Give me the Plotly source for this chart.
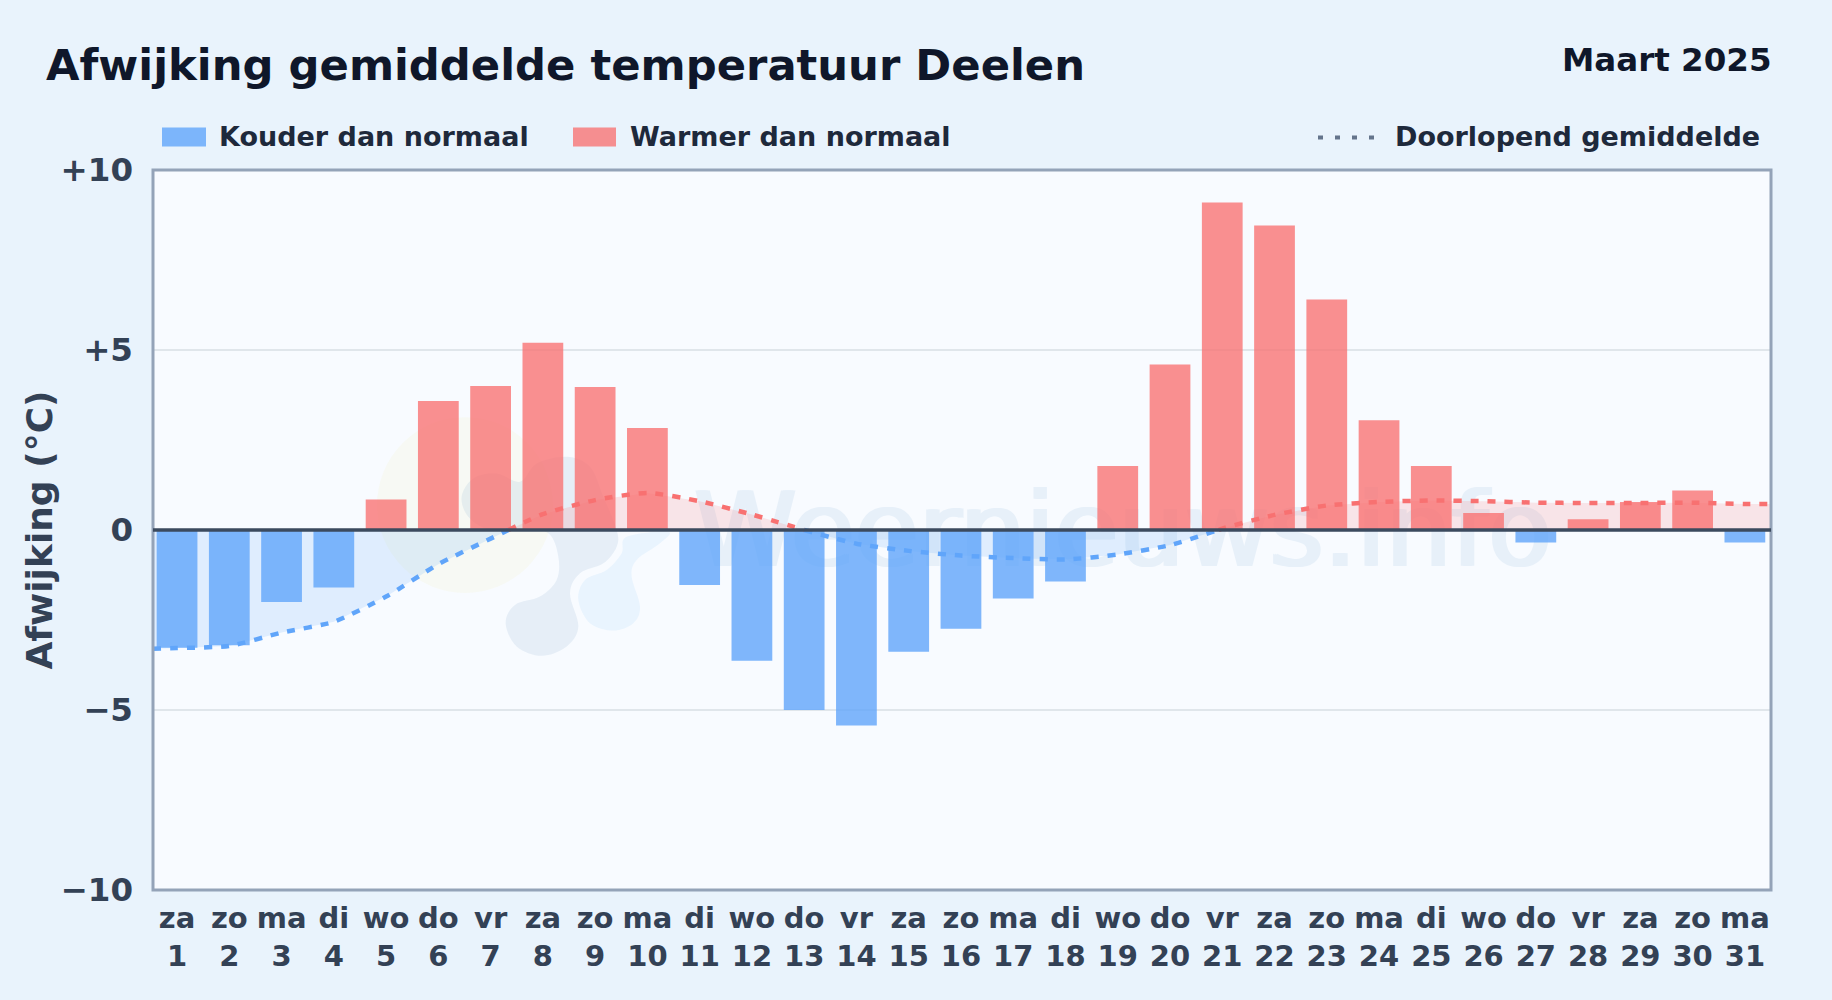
import plotly.graph_objects as go

FONT = "DejaVu Sans"

days = list(range(1, 32))
weekdays = ["za","zo","ma","di","wo","do","vr","za","zo","ma","di","wo","do","vr","za","zo",
            "ma","di","wo","do","vr","za","zo","ma","di","wo","do","vr","za","zo","ma"]
cold_values = [-3.27,-3.2,-2.0,-1.6,None,None,None,None,None,None,-1.53,-3.63,-5.0,-5.43,-3.38,-2.74,
               -1.9,-1.43,None,None,None,None,None,None,None,None,-0.35,None,None,None,-0.35]
warm_values = [None,None,None,None,0.85,3.58,4.0,5.2,3.97,2.83,None,None,None,None,None,None,
               None,None,1.78,4.6,9.1,8.46,6.4,3.05,1.78,0.47,None,0.3,0.78,1.1,None]

avg_x = [0.54,1,2,3,4,5,6,7,7.34,8,9,10,11,12,13,14,15,16,17,18,19,20,20.93,21,22,23,24,25,26,27,28,29,30,31,31.5]
avg_cold = [-3.3,-3.28,-3.22,-2.85,-2.55,-1.85,-0.95,-0.24,0,None,None,None,None,None,0,-0.38,-0.58,-0.71,
            -0.78,-0.82,-0.68,-0.42,0,None,None,None,None,None,None,None,None,None,None,None,None]
avg_warm = [None,None,None,None,None,None,None,None,0,0.44,0.83,1.03,0.8,0.43,0,None,None,None,
            None,None,None,None,0,0.04,0.42,0.68,0.78,0.82,0.8,0.76,0.75,0.75,0.76,0.72,0.72]

y_ticks = [10, 5, 0, -5, -10]
y_labels = ["+10", "+5", "0", "\u22125", "\u221210"]
x_labels = [f"{w}<br>{d}" for w, d in zip(weekdays, days)]

BLUE, RED = "#60A5FA", "#F87171"
L, R, T, B = 153, 1771, 169.5, 890.5
W_, H_ = R - L, B - T
def px(x): return (x - L) / W_
def py(y): return (B - y) / H_

fig = go.Figure()
fig.add_trace(go.Scatter(x=[19.1], y=[-0.28], mode="text", text=["Weernieuws.info"], showlegend=False,
                         textfont=dict(family=FONT, size=104, color="#2A7BC0",
                                       shadow="2px 0 0 #2A7BC0, -2px 0 0 #2A7BC0"),
                         opacity=0.08, hoverinfo="skip", zorder=-1))
fig.add_trace(go.Scatter(x=avg_x, y=avg_cold, mode="none", fill="tozeroy", fillcolor="rgba(96,165,250,0.16)",
                         showlegend=False, hoverinfo="skip", zorder=0))
fig.add_trace(go.Scatter(x=avg_x, y=avg_warm, mode="none", fill="tozeroy", fillcolor="rgba(248,113,113,0.16)",
                         showlegend=False, hoverinfo="skip", zorder=0))
fig.add_trace(go.Bar(x=days, y=cold_values, name="Kouder dan normaal", width=0.78,
                     marker=dict(color="rgba(96,165,250,0.8)", line_width=0), zorder=1))
fig.add_trace(go.Bar(x=days, y=warm_values, name="Warmer dan normaal", width=0.78,
                     marker=dict(color="rgba(248,113,113,0.78)", line_width=0), zorder=1))
dot = dict(width=4.5, dash="8px,9px", shape="spline", smoothing=0.6)
fig.add_trace(go.Scatter(x=avg_x, y=avg_cold, mode="lines", name="Doorlopend gemiddelde",
                         line=dict(color=BLUE, **dot), zorder=2))
fig.add_trace(go.Scatter(x=avg_x, y=avg_warm, mode="lines", name="Doorlopend gemiddelde",
                         line=dict(color=RED, **dot), zorder=2, showlegend=False))

shapes = []
def blob(cx, cy, rx, ry, color):
    shapes.append(dict(type="circle", xref="paper", yref="paper", layer="below",
                       x0=px(cx - rx), x1=px(cx + rx), y0=py(cy + ry), y1=py(cy - ry),
                       fillcolor=color, line_width=0))
def smooth_blob(points, color):
    # closed Catmull-Rom outline, points given as offsets in a 3x crop at (340,400)
    pts = [(340 + a / 3, 400 + b / 3) for a, b in points]
    n = len(pts)
    d = f"M{px(pts[0][0])},{py(pts[0][1])}"
    for i in range(n):
        p0, p1, p2, p3 = pts[i - 1], pts[i], pts[(i + 1) % n], pts[(i + 2) % n]
        c1 = (p1[0] + (p2[0] - p0[0]) / 6, p1[1] + (p2[1] - p0[1]) / 6)
        c2 = (p2[0] - (p3[0] - p1[0]) / 6, p2[1] - (p3[1] - p1[1]) / 6)
        d += f" C{px(c1[0])},{py(c1[1])} {px(c2[0])},{py(c2[1])} {px(p2[0])},{py(p2[1])}"
    shapes.append(dict(type="path", xref="paper", yref="paper", layer="below", path=d + " Z",
                       fillcolor=color, line_width=0))

# watermark logo
blob(465, 505, 88, 88, "rgba(240,235,130,0.09)")
smooth_blob([(605,768),(530,740),(497,670),(525,615),(600,590),(650,540),(655,470),(625,400),(540,385),
             (450,390),(385,350),(365,290),(400,235),(470,220),(540,245),(590,190),(680,170),(750,200),
             (790,290),(830,390),(830,440),(790,490),(720,520),(690,580),(715,680),(680,740)],
            "rgba(140,180,205,0.17)")
smooth_blob([(820,692),(750,670),(715,600),(735,540),(800,510),(845,460),(860,410),(985,395),
             (960,430),(890,480),(875,530),(900,620),(880,670)], "rgba(120,190,250,0.11)")

# plot frame
shapes.append(dict(type="rect", xref="paper", yref="paper", x0=0, x1=1, y0=0, y1=1, layer="above",
                   line=dict(color="#94A3B8", width=3), fillcolor="rgba(0,0,0,0)"))
# zero line
shapes.append(dict(type="line", xref="paper", yref="y", x0=0, x1=1, y0=0, y1=0,
                   layer="above", line=dict(color="#3B4A5E", width=3.5)))
# legend swatches
shapes.append(dict(type="rect", xref="paper", yref="paper", x0=px(162), x1=px(206), y0=py(146), y1=py(127),
                   fillcolor="rgba(96,165,250,0.8)", line_width=0))
shapes.append(dict(type="rect", xref="paper", yref="paper", x0=px(573), x1=px(616), y0=py(146), y1=py(127),
                   fillcolor="rgba(248,113,113,0.78)", line_width=0))
shapes.append(dict(type="line", xref="paper", yref="paper", x0=px(1318), x1=px(1376), y0=py(137), y1=py(137),
                   line=dict(color="#64748B", width=4, dash="5px,12px")))

def label(text, x, y, anchor, size, color):
    return dict(text=text, xref="paper", yref="paper", x=px(x), y=py(y), xanchor=anchor, yanchor="middle",
                showarrow=False, align=anchor, font=dict(family=FONT, size=size, color=color, weight="bold"))

annotations = [
    label("Maart 2025", 1774, 59, "right", 32.5, "#0F172A"),
    label("Kouder dan normaal", 217, 136, "left", 27, "#1E293B"),
    label("Warmer dan normaal", 628, 136, "left", 27, "#1E293B"),
    label("Doorlopend gemiddelde", 1393, 136, "left", 27, "#1E293B"),
    dict(text="Afwijking (°C)", xref="paper", yref="paper", x=px(38.5), y=py(530), xanchor="center",
         yanchor="middle", textangle=-90, showarrow=False,
         font=dict(family=FONT, size=36, color="#334155", weight="bold")),
]

fig.update_layout(
    width=1832, height=1000,
    margin=dict(l=L, r=1832 - R, t=T, b=1000 - B, pad=0),
    paper_bgcolor="#E9F3FC", plot_bgcolor="#F8FBFF",
    barmode="overlay", showlegend=False,
    title=dict(text="Afwijking gemiddelde temperatuur Deelen", xref="container", yref="container",
               x=46 / 1832, xanchor="left", y=1 - 65 / 1000, yanchor="middle",
               font=dict(family=FONT, size=43.3, color="#0F172A", weight="bold")),
    xaxis=dict(range=[0.54, 31.5], tickmode="array", tickvals=days, ticktext=x_labels, showgrid=False,
               zeroline=False, ticks="", ticklabelstandoff=8,
               tickfont=dict(family=FONT, size=29, color="#334155", weight="bold")),
    yaxis=dict(range=[-10, 10], tickmode="array", tickvals=y_ticks, ticktext=y_labels, showgrid=True,
               gridcolor="#E0E6EB", gridwidth=2, zeroline=False, ticks="", ticklabelstandoff=19,
               tickfont=dict(family=FONT, size=32.5, color="#334155", weight="bold")),
    shapes=shapes, annotations=annotations,
)

fig.write_html("out.html", config={"displayModeBar": False},
               post_script="document.body.style.margin='0';")
